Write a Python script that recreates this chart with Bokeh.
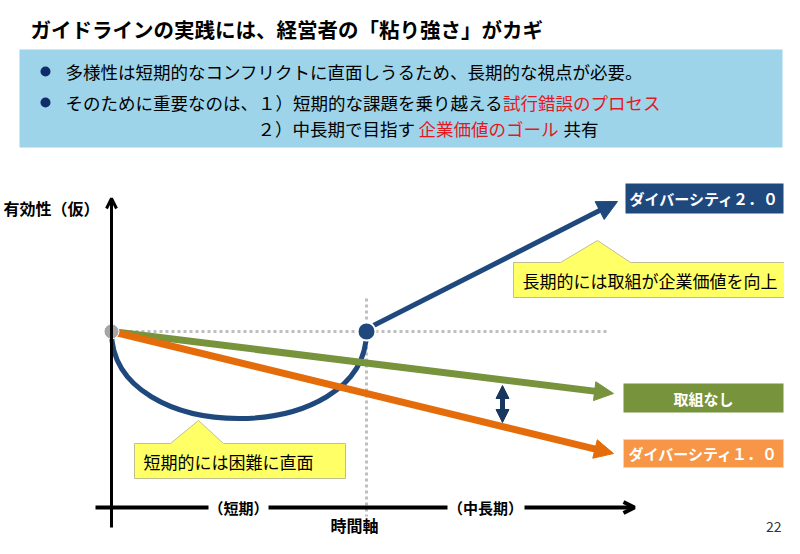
import math
from bokeh.plotting import figure
from bokeh.models import Range1d, Arrow, NormalHead, OpenHead
from bokeh.core.properties import value
from bokeh.embed import file_html
from bokeh.resources import INLINE

FONT = value("Noto Sans CJK JP")

# ---------------- slide texts ----------------
title_text = "ガイドラインの実践には、経営者の「粘り強さ」がカギ"
row1_text = "多様性は短期的なコンフリクトに直面しうるため、長期的な視点が必要。"
row2_segments = ["そのために重要なのは、１）短期的な課題を乗り越える", "試行錯誤のプロセス"]
row2_red = [False, True]
row3_segments = ["２）", "中長期で目指す", "企業価値のゴール", "共有"]
row3_red = [False, False, True, False]

y_axis_label = "有効性（仮）"
x_axis_label = "時間軸"
period_labels = ["（短期）", "（中長期）"]
series_labels = ["ダイバーシティ２．０", "取組なし", "ダイバーシティ１．０"]
callout_texts = ["長期的には取組が企業価値を向上", "短期的には困難に直面"]
page_number = "22"

# ---------------- diagram values (screen-pixel space) ----------------
t_origin = 111        # time origin
t_short_end = 366     # end of short term
baseline = 331        # starting effectiveness
dip_low = 447         # bezier control depth of the short-term dip (bottom ~418)
no_action_end = [613, 393]   # 取組なし end point
div1_end = [613, 453]        # ダイバーシティ1.0 end point
div2_start = [373, 325]      # ダイバーシティ2.0 after recovery
div2_end = [617, 201]
gap_arrow_x = 502
gap_arrow_y = [385, 422]

NAVY = "#1F497D"
GREEN = "#77933C"
ORANGE = "#E46C0A"
ORANGE_BOX = "#F79646"
RED = "#E3191F"
BOX_BLUE = "#9DD4E9"
YELLOW = "#FFFF66"
FS = 17.5

p = figure(width=784, height=538, x_range=Range1d(0, 784), y_range=Range1d(538, 0),
           output_backend="svg", toolbar_location=None, min_border=0,
           x_axis_type=None, y_axis_type=None)
p.grid.visible = False
p.outline_line_color = None
p.background_fill_color = "white"
p.border_fill_color = "white"

def txt(x, y, s, size, color="black", bold=False, align="left", baseline_="middle"):
    p.text(x=[x], y=[y], text=[s], text_font=FONT, text_font_size=size,
           text_color=color, text_font_style="bold" if bold else "normal",
           text_align=align, text_baseline=baseline_)

# ---------------- header ----------------
txt(30, 28, title_text, "20.5px", bold=True)
p.quad(left=[19], right=[782], top=[49], bottom=[147], fill_color=BOX_BLUE, line_color=None)
p.scatter(x=[45, 45], y=[71, 102], size=10, marker="circle", fill_color="#0F2D6B", line_color=None)
txt(65, 71, row1_text, f"{FS}px")
x = 65
for s, r in zip(row2_segments, row2_red):
    txt(x, 102, s, f"{FS}px", color=RED if r else "black")
    x += len(s) * FS
row3_x = [257, 292, 418, 563]
for s, r, xx in zip(row3_segments, row3_red, row3_x):
    txt(xx, 128, s, f"{FS}px", color=RED if r else "black")

# ---------------- reference dotted lines ----------------
p.line([t_origin, 607], [baseline, baseline], line_color="#BFBFBF", line_width=3, line_dash="3 3")
p.line([t_short_end, t_short_end], [298, 516], line_color="#BFBFBF", line_width=3, line_dash="3 3")

# ---------------- axes ----------------
p.add_layout(Arrow(end=OpenHead(size=10, line_width=3, line_color="black"),
                   x_start=t_origin, y_start=527, x_end=t_origin, y_end=198,
                   line_width=3, line_color="black"))
p.line([95, 208], [507, 507], line_color="black", line_width=4)
p.line([268, 447], [507, 507], line_color="black", line_width=4)
p.add_layout(Arrow(end=OpenHead(size=11, line_width=4, line_color="black"),
                   x_start=524, y_start=507, x_end=634, y_end=507,
                   line_width=4, line_color="black"))
txt(238, 507, period_labels[0], "15px", bold=True, align="center")
txt(485, 507, period_labels[1], "15px", bold=True, align="center")
txt(354, 524, x_axis_label, "16px", bold=True, align="center")
txt(3, 207, y_axis_label, "16px", bold=True)

# ---------------- series ----------------
p.bezier(x0=[t_origin], y0=[baseline], cx0=[t_origin], cy0=[dip_low],
         cx1=[t_short_end], cy1=[dip_low], x1=[t_short_end], y1=[baseline],
         line_color=NAVY, line_width=5)

def arrow_line(x0, y0, x1, y1, color, width, head):
    dx, dy = x1 - x0, y1 - y0
    L = math.hypot(dx, dy)
    ux, uy = dx / L, dy / L
    p.line([x0, x1 - ux * head * 0.7], [y0, y1 - uy * head * 0.7], line_color=color, line_width=width)
    p.add_layout(Arrow(end=NormalHead(size=head, fill_color=color, line_color=color, line_width=1),
                       x_start=x1 - ux * 3, y_start=y1 - uy * 3, x_end=x1, y_end=y1,
                       line_alpha=0))

arrow_line(t_origin, baseline, no_action_end[0], no_action_end[1], GREEN, 7, 19)
arrow_line(t_origin, baseline, div1_end[0], div1_end[1], ORANGE, 7, 19)
arrow_line(div2_start[0], div2_start[1], div2_end[0], div2_end[1], NAVY, 5, 20)

p.add_layout(Arrow(start=NormalHead(size=13, fill_color="#17375E", line_color="#17375E"),
                   end=NormalHead(size=13, fill_color="#17375E", line_color="#17375E"),
                   x_start=gap_arrow_x, y_start=gap_arrow_y[0], x_end=gap_arrow_x, y_end=gap_arrow_y[1],
                   line_width=5, line_color="#17375E"))

p.scatter(x=[t_origin], y=[baseline], size=15, marker="circle", fill_color="#A6A6A6", line_color="white", line_width=1)
p.scatter(x=[t_short_end], y=[baseline], size=18, marker="circle", fill_color=NAVY, line_color="white", line_width=2)

# ---------------- series label boxes ----------------
p.quad(left=[625], right=[783], top=[183], bottom=[213], fill_color=NAVY, line_color=None)
txt(704, 198, series_labels[0], "15px", color="white", bold=True, align="center")
p.quad(left=[623], right=[783], top=[383], bottom=[412], fill_color=GREEN, line_color=None)
txt(703, 398, series_labels[1], "15px", color="white", bold=True, align="center")
p.quad(left=[623], right=[783], top=[439], bottom=[467], fill_color=ORANGE_BOX, line_color="#D9D9D9", line_width=1)
txt(703, 453, series_labels[2], "15px", color="white", bold=True, align="center")

# ---------------- callouts ----------------
p.patch(x=[513, 560, 597, 630, 799, 799, 513], y=[262, 262, 240, 262, 262, 297, 297],
        fill_color=YELLOW, line_color="#BFBF8F", line_width=1)
txt(522, 280, callout_texts[0], "17px")
p.patch(x=[134, 170, 198, 223, 345, 345, 134], y=[443, 443, 420, 443, 443, 478, 478],
        fill_color=YELLOW, line_color="#BFBF8F", line_width=1)
txt(143, 461, callout_texts[1], "17px")

txt(781, 526, page_number, "14px", color="#333333", align="right")

open("out.html", "w").write(file_html(p, INLINE))
